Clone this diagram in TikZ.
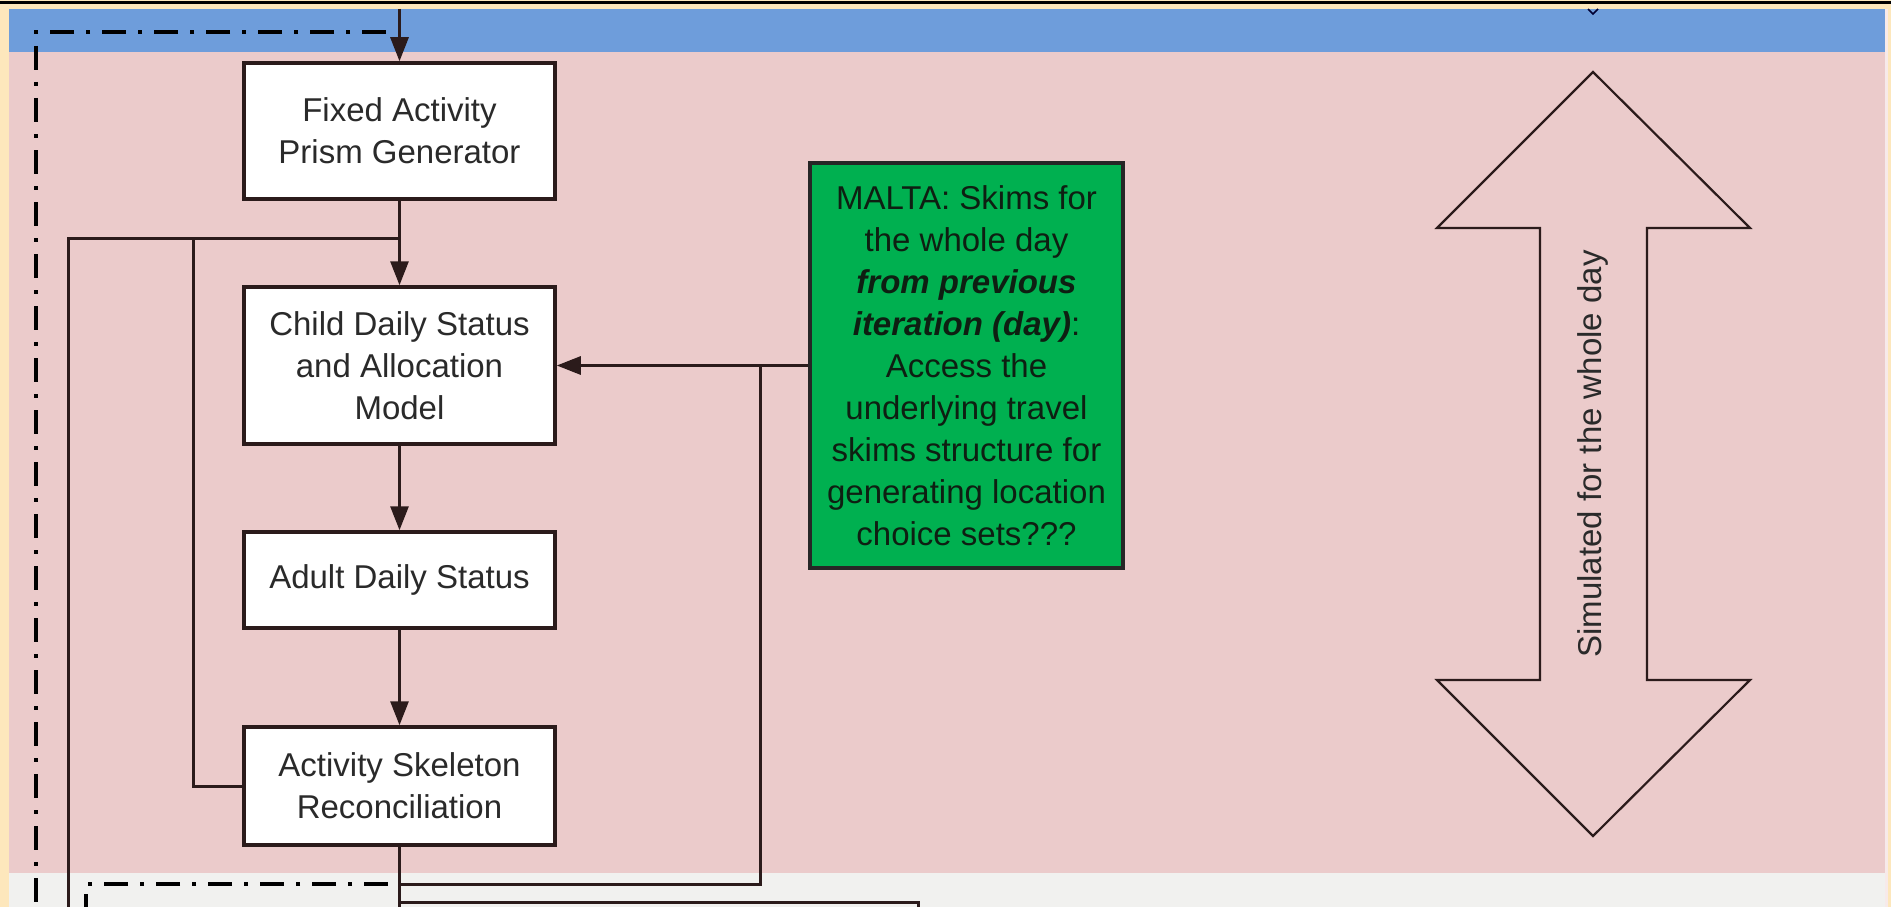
\documentclass[tikz,border=0pt]{standalone}
\usepackage{fontspec}
\setmainfont{Liberation Sans}
\usetikzlibrary{arrows.meta}
\definecolor{bgyellow}{HTML}{FDE7BC}
\definecolor{bandblue}{HTML}{6E9DDB}
\definecolor{pinkbg}{HTML}{EBCBCB}
\definecolor{graybg}{HTML}{F1F1EF}
\definecolor{linec}{HTML}{2B1B1B}
\definecolor{greenbox}{HTML}{00B050}
\definecolor{txt}{HTML}{2A2A2A}
\definecolor{gtxt}{HTML}{0E1F12}
\begin{document}
\begin{tikzpicture}[x=1pt,y=-1pt,
  box/.style={draw=linec, line width=3.5pt, fill=white, minimum width=311pt, align=center,
    text=txt, font=\fontsize{33}{42}\selectfont, inner sep=0pt},
  greennode/.style={draw=black!85, line width=3.5pt, fill=greenbox, minimum width=313pt, minimum height=405pt,
    align=center, text=gtxt, font=\fontsize{33}{42}\selectfont, inner sep=0pt},
  conn/.style={draw=linec, line width=3pt},
  arr/.style={conn, -{Triangle[length=24pt,width=18pt]}},
  dashdot/.style={draw=black, line width=3.5pt, dash pattern=on 24pt off 12pt on 4pt off 12pt},
  bigarrow/.style={draw=linec, line width=2.2pt, line join=miter},
  simtext/.style={text=txt, font=\fontsize{33}{42}\selectfont, inner sep=0pt}
]
\useasboundingbox (0,0) rectangle (1891,907);
% background layers
\fill[bgyellow] (0,0) rectangle (1891,907);
\fill[black] (0,1) rectangle (1891,4.5);
\fill[bandblue] (9,9) rectangle (1885,52);
\fill[pinkbg] (9,52) rectangle (1885,873);
\fill[graybg] (9,873) rectangle (1885,907);
\fill[white!60!pinkbg] (1885,9) rectangle (1888,907);

% boxes
\node[box, minimum height=136pt] (fixed) at (399.5,131) {Fixed Activity\\Prism Generator};
\node[box, minimum height=157pt] (child) at (399.5,365.5) {Child Daily Status\\and Allocation\\Model};
\node[box, minimum height=96pt] (adult) at (399.5,580) {Adult Daily Status};
\node[box, minimum height=118pt] (skel) at (399.5,786) {Activity Skeleton\\Reconciliation};
\node[greennode] (malta) at (966.5,365.5) {MALTA: Skims for\\the whole day\\\textbf{\textit{from previous}}\\\textbf{\textit{iteration (day)}}:\\Access the\\underlying travel\\skims structure for\\generating location\\choice sets???};

% coordinates for free ends and junctions
\coordinate (topin) at (399.5,9);
\coordinate (j1) at (399.5,238);
\coordinate (j2) at (193,238);
\coordinate (leftend) at (68,907);
\coordinate (botout) at (399.5,907);
\coordinate (j3) at (760,365.5);
\coordinate (j4) at (399.5,884);
\coordinate (j5) at (399.5,902);
\coordinate (rightout) at (918,907);

% connectors
\draw[arr] (topin) -- (fixed.north);
\draw[arr] (fixed.south) -- (child.north);
\draw[arr] (child.south) -- (adult.north);
\draw[arr] (adult.south) -- (skel.north);
\draw[conn] (skel.south) -- (botout);
\draw[conn] (j1) -| (leftend);
\draw[conn] (j2) |- (skel.west);
\draw[arr] (malta.west) -- (child.east);
\draw[conn] (j3) |- (j4);
\draw[conn] (j5) -| (rightout);

% dash-dot frames
\draw[dashdot] (386,32) -- (36,32) -- (36,907);
\draw[dashdot] (388,884) -- (86,884) -- (86,907);

% double arrow
\draw[bigarrow] (1593,72) -- (1750,228) -- (1647,228) -- (1647,680) -- (1750,680) -- (1593,836)
  -- (1437,680) -- (1540,680) -- (1540,228) -- (1437,228) -- cycle;
\node[simtext, rotate=90] (simlabel) at (1593,454) {Simulated for the whole day};

% small mark at the top
\draw[draw=black!80!blue, line width=1.5pt] (1588,9) -- (1593,14) -- (1598,9);
\end{tikzpicture}
\end{document}
